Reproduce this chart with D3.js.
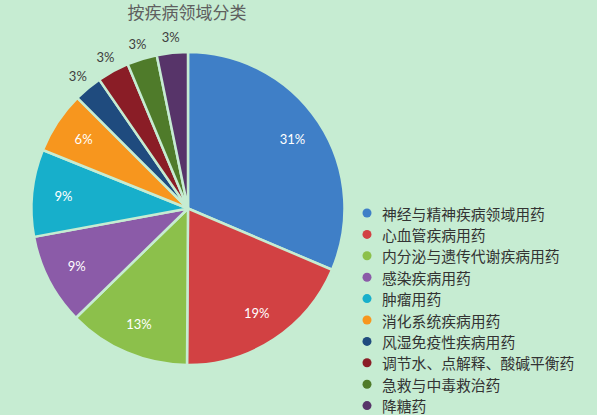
<!DOCTYPE html>
<html><head><meta charset="utf-8">
<script src="https://cdn.jsdelivr.net/npm/d3@7"></script>
<style>
html,body{margin:0;padding:0;background:#c6ecd2;}
svg{display:block;}
</style></head>
<body>
<svg id="chart" width="597" height="415"></svg>
<script>
const title = "按疾病领域分类";
const categories = ["神经与精神疾病领域用药","心血管疾病用药","内分泌与遗传代谢疾病用药","感染疾病用药","肿瘤用药","消化系统疾病用药","风湿免疫性疾病用药","调节水、点解释、酸碱平衡药","急救与中毒救治药","降糖药"];
const values = [31.4,18.7,12.6,9.4,9.0,6.4,2.9,3.3,3.1,3.2];
const labels = ["31%","19%","13%","9%","9%","6%","3%","3%","3%","3%"];
const colors = ["#3f7fc7","#d24143","#8cc04b","#8b5ba8","#17afcb","#f7961e","#1f4b7e","#8a1d26","#4f7b2a","#573469"];

const svg = d3.select("#chart");
const W = 597, H = 415, bg = "#c6ecd2";
svg.append("rect").attr("width",W).attr("height",H).attr("fill",bg);

svg.append("text").attr("x",187).attr("y",19).attr("text-anchor","middle")
  .attr("font-family","'Noto Sans CJK SC',sans-serif").attr("font-size",17)
  .attr("fill","#5f5f5f").text(title);

const cx = 188, cy = 208.5, r = 156.5;
const pie = d3.pie().value(d=>d).sort(null);
const arcs = pie(values);
const arc = d3.arc().innerRadius(0).outerRadius(r);
const inArc = d3.arc().innerRadius(r*0.8).outerRadius(r*0.8);
const outArc = d3.arc().innerRadius(r*1.1).outerRadius(r*1.1);
const g = svg.append("g").attr("transform",`translate(${cx},${cy})`);
g.selectAll("path").data(arcs).join("path")
  .attr("d",arc).attr("fill",(d,i)=>colors[i])
  .attr("stroke",bg).attr("stroke-width",2.5).attr("stroke-linejoin","round");

g.selectAll("text.lbl").data(arcs).join("text").attr("class","lbl")
  .attr("transform",(d,i)=>`translate(${(values[i]>=5?inArc:outArc).centroid(d)})`)
  .attr("text-anchor","middle").attr("dominant-baseline","central")
  .attr("font-family","Lato,'Open Sans',sans-serif").attr("font-size",13)
  .attr("fill",(d,i)=>values[i]>=5?"#ffffff":"#404040")
  .text((d,i)=>labels[i]);

const lg = svg.append("g");
categories.forEach((c,i)=>{
  const y = 213 + i*21.4;
  lg.append("circle").attr("cx",367).attr("cy",y).attr("r",4.5).attr("fill",colors[i]);
  lg.append("text").attr("x",382).attr("y",y).attr("dominant-baseline","central")
    .attr("font-family","'Noto Sans CJK SC',sans-serif").attr("font-size",14.8)
    .attr("fill","#333").text(c);
});
</script>
</body></html>
